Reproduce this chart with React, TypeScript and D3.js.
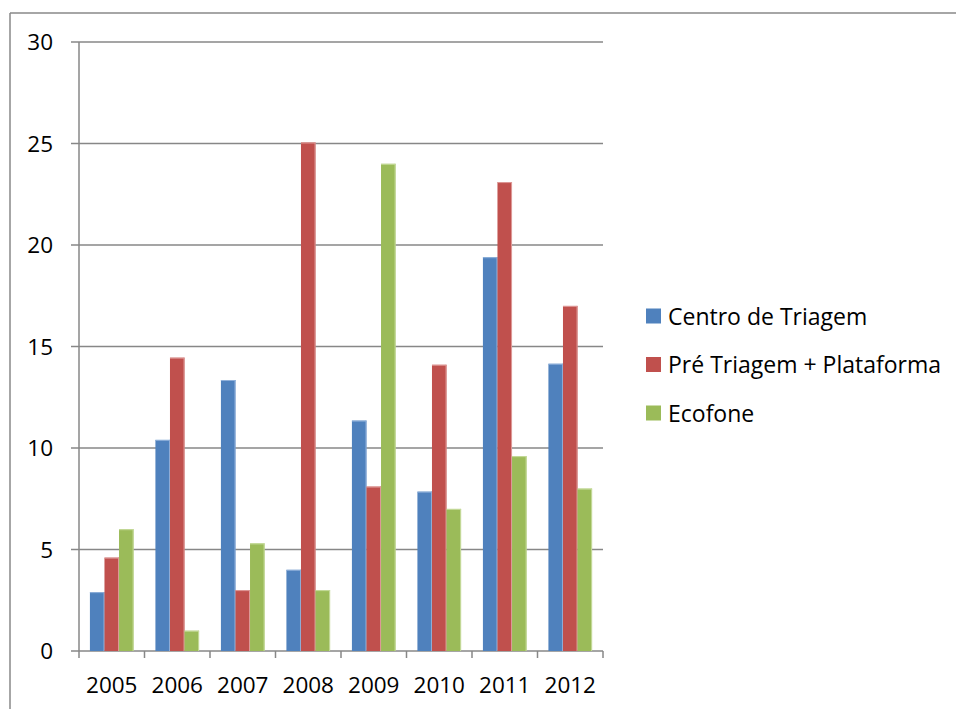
import React from "react";
import * as d3 from "d3";

const years = ["2005", "2006", "2007", "2008", "2009", "2010", "2011", "2012"];
const seriesNames = ["Centro de Triagem", "Pré Triagem + Plataforma", "Ecofone"];
const centroTriagem = [2.9, 10.4, 13.35, 4, 11.35, 7.85, 19.4, 14.15];
const preTriagemPlataforma = [4.6, 14.45, 3, 25.05, 8.1, 14.1, 23.1, 17];
const ecofone = [6, 1, 5.3, 3, 24, 7, 9.6, 8];
const yTicks = [0, 5, 10, 15, 20, 25, 30];

const colors = ["#4F81BD", "#C0504D", "#9BBB59"];
const edgeColors = ["#8FB0DA", "#DE9A98", "#C6DB9C"];

const W = 956;
const H = 709;
const plot = { left: 79, right: 603, top: 42, bottom: 651 };
const font = "'Open Sans', sans-serif";

export default function App() {
  const allSeries = [centroTriagem, preTriagemPlataforma, ecofone];

  const x = d3
    .scaleBand<string>()
    .domain(years)
    .range([plot.left, plot.right])
    .paddingInner(0)
    .paddingOuter(0);

  const y = d3.scaleLinear().domain([0, 30]).range([plot.bottom, plot.top]);

  const step = x.bandwidth();
  const barW = step / 4.5;
  const groupOffset = (step - barW * 3) / 2;

  const gridColor = "#878787";

  return (
    <svg
      width={W}
      height={H}
      style={{ position: "absolute", left: 0, top: 0, background: "#fff" }}
    >
      {/* chart frame */}
      <line x1={10} y1={13} x2={W} y2={13} stroke="#888" strokeWidth={1.5} />
      <line x1={10} y1={13} x2={10} y2={H} stroke="#888" strokeWidth={1.5} />

      {/* horizontal gridlines with outward ticks */}
      {yTicks.map((t) => (
        <line
          key={"g" + t}
          x1={71}
          x2={plot.right}
          y1={y(t)}
          y2={y(t)}
          stroke={gridColor}
          strokeWidth={1.5}
        />
      ))}

      {/* bars */}
      {allSeries.map((vals, si) =>
        vals.map((v, i) => {
          const bx = (x(years[i]) as number) + groupOffset + si * barW;
          const by = y(v);
          return (
            <g key={`b${si}-${i}`}>
              <rect
                x={bx}
                y={by}
                width={barW}
                height={plot.bottom - by}
                fill={colors[si]}
              />
              <rect
                x={bx + barW - 1}
                y={by}
                width={1}
                height={plot.bottom - by}
                fill={edgeColors[si]}
              />
              <rect x={bx} y={by} width={barW} height={1} fill={edgeColors[si]} />
            </g>
          );
        })
      )}

      {/* y axis line */}
      <line
        x1={plot.left}
        x2={plot.left}
        y1={plot.top}
        y2={plot.bottom}
        stroke={gridColor}
        strokeWidth={1.5}
      />

      {/* x axis tick marks */}
      {[...years.map((yr) => x(yr) as number), plot.right].map((tx, i) => (
        <line
          key={"xt" + i}
          x1={tx}
          x2={tx}
          y1={plot.bottom}
          y2={plot.bottom + 7}
          stroke={gridColor}
          strokeWidth={1.5}
        />
      ))}

      {/* y tick labels */}
      {yTicks.map((t) => (
        <text
          key={"yl" + t}
          x={53}
          y={y(t) + 8}
          textAnchor="end"
          fontFamily={font}
          fontSize={22.5}
          fill="#000"
        >
          {t}
        </text>
      ))}

      {/* x tick labels */}
      {years.map((yr) => (
        <text
          key={"xl" + yr}
          x={(x(yr) as number) + step / 2}
          y={693}
          textAnchor="middle"
          fontFamily={font}
          fontSize={22.5}
          fill="#000"
        >
          {yr}
        </text>
      ))}

      {/* legend */}
      {seriesNames.map((name, i) => {
        const ly = 316 + i * 48.5;
        return (
          <g key={"lg" + i}>
            <rect x={646} y={ly - 7.5} width={15} height={15} fill={colors[i]} />
            <text
              x={668}
              y={ly + 8.5}
              fontFamily={font}
              fontSize={23}
              fill="#000"
            >
              {name}
            </text>
          </g>
        );
      })}
    </svg>
  );
}
